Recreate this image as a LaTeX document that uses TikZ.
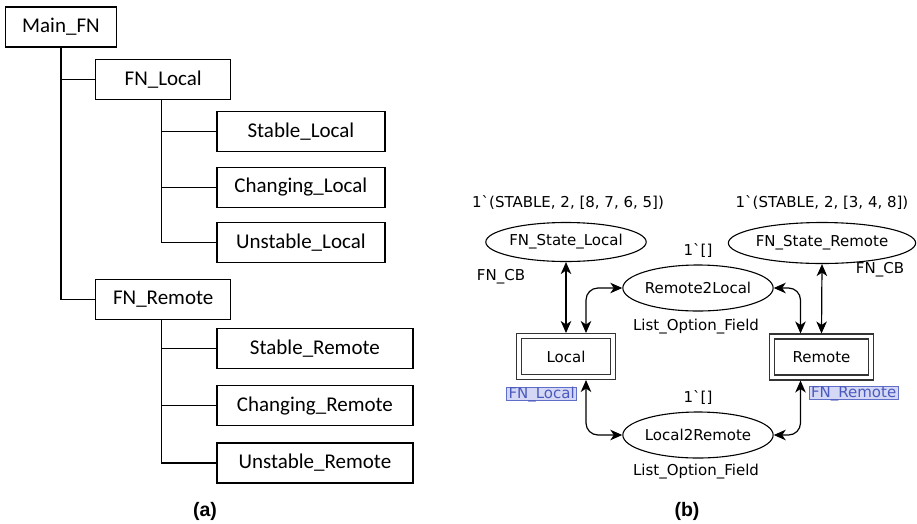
\documentclass[tikz,border=0pt]{standalone}
\usepackage{fontspec}
\usetikzlibrary{positioning, shapes.geometric, arrows.meta}
\newfontfamily\treefont{Carlito}
\newfontfamily\netfont{DejaVu Sans}
\newfontfamily\capfont{Liberation Sans}
\definecolor{tagline}{RGB}{95,110,200}
\definecolor{tagfill}{RGB}{212,216,245}
\definecolor{tagtext}{RGB}{75,90,190}

\begin{document}
\begin{tikzpicture}[x=1pt, y=1pt, node distance=14.5pt]
        % Styles
        \tikzstyle{treeblock} = [rectangle, draw, line width=1.2pt, minimum height=40pt,
            inner sep=0pt, font=\treefont\fontsize{21}{25}\selectfont]
        \tikzstyle{treeline} = [draw, line width=1.2pt]
        \tikzstyle{place} = [ellipse, draw, line width=1.1pt, inner sep=0pt,
            font=\netfont\fontsize{15}{18}\selectfont]
        \tikzstyle{trans} = [rectangle, draw=black!80, double, double distance=3.5pt,
            line width=1.3pt, minimum height=41pt, outer sep=3pt,
            font=\netfont\fontsize{15}{18}\selectfont]
        \tikzstyle{inscr} = [inner sep=0pt, font=\netfont\fontsize{15}{18}\selectfont]
        \tikzstyle{tag} = [rectangle, draw=tagline, fill=tagfill, text=tagtext, line width=1pt,
            inner xsep=2pt, inner ysep=0pt, text height=11pt, text depth=2pt, anchor=north west,
            font=\netfont\fontsize{15}{18}\selectfont]
        \tikzstyle{arc} = [draw, line width=1.2pt, rounded corners=12pt,
            {Stealth[length=12pt, width=10.5pt, inset=3.5pt]}-{Stealth[length=12pt, width=10.5pt, inset=3.5pt]}]
        \tikzstyle{caption} = [font=\capfont\bfseries\fontsize{19.5}{23}\selectfont]

        \useasboundingbox (0,0) rectangle (917,-523);

        % Tree (a)
        \node [treeblock, minimum width=111pt] (mainfn) at (61,-27) {Main\_FN};
        \node [treeblock, minimum width=135pt, below right=11pt and -22pt of mainfn] (fnlocal) {FN\_Local};
        \node [treeblock, minimum width=168pt, below right=11pt and -15pt of fnlocal] (stablelocal) {Stable\_Local};
        \node [treeblock, minimum width=168pt, below=of stablelocal] (changinglocal) {Changing\_Local};
        \node [treeblock, minimum width=168pt, below=of changinglocal] (unstablelocal) {Unstable\_Local};
        \node [treeblock, minimum width=135pt, below=179pt of fnlocal] (fnremote) {FN\_Remote};
        \node [treeblock, minimum width=196pt, below right=8pt and -15pt of fnremote] (stableremote) {Stable\_Remote};
        \node [treeblock, minimum width=196pt, below=16pt of stableremote] (changingremote) {Changing\_Remote};
        \node [treeblock, minimum width=196pt, below=16pt of changingremote] (unstableremote) {Unstable\_Remote};

        \path [treeline] (mainfn.south) |- (fnremote.west);
        \path [treeline] (mainfn.south |- fnlocal.west) -- (fnlocal.west);
        \path [treeline] ([xshift=-2pt]fnlocal.south) |- (unstablelocal.west);
        \path [treeline] ([xshift=-2pt]fnlocal.south |- stablelocal.west) -- (stablelocal.west);
        \path [treeline] ([xshift=-2pt]fnlocal.south |- changinglocal.west) -- (changinglocal.west);
        \path [treeline] ([xshift=-2pt]fnremote.south) |- (unstableremote.west);
        \path [treeline] ([xshift=-2pt]fnremote.south |- stableremote.west) -- (stableremote.west);
        \path [treeline] ([xshift=-2pt]fnremote.south |- changingremote.west) -- (changingremote.west);

        \node [caption] (capa) at (205,-511) {(a)};

        % Net (b)
        \node [place, minimum width=144pt, minimum height=39pt] (statelocal) at (566,-242) {FN\_State\_Local};
        \node [place, minimum width=153pt, minimum height=41pt] (stateremote) at (822,-243) {FN\_State\_Remote};
        \node [place, minimum width=126pt, minimum height=46pt] (r2l) at (698,-288) {Remote2Local};
        \node [place, minimum width=126pt, minimum height=46pt] (l2r) at (698,-435) {Local2Remote};
        \node [trans, minimum width=94pt] (local) at (566,-356.5) {Local};
        \node [trans, minimum width=99pt] (remote) at (821.5,-357) {Remote};

        \node [inscr, above=12.5pt of statelocal, xshift=2pt] (initlocal) {1\textasciigrave(STABLE, 2, [8, 7, 6, 5])};
        \node [inscr, above=12.5pt of stateremote] (initremote) {1\textasciigrave(STABLE, 2, [3, 4, 8])};
        \node [inscr, above=7pt of r2l] (initr2l) {1\textasciigrave[]};
        \node [inscr, below=7pt of r2l, xshift=-2pt] (typer2l) {List\_Option\_Field};
        \node [inscr, above=7pt of l2r] (initl2r) {1\textasciigrave[]};
        \node [inscr, below=5pt of l2r, xshift=-2pt] (typel2r) {List\_Option\_Field};
        \node [inscr] (cblocal) at (501,-277) {FN\_CB};
        \node [inscr] (cbremote) at (880,-270) {FN\_CB};

        \node [tag, below right=7pt and -10pt of local.south west] (taglocal) {FN\_Local};
        \node [tag, below right=5pt and -13pt of remote.south] (tagremote) {FN\_Remote};

        \path [arc] (local.north) -- (statelocal.south);
        \path [arc] (remote.north) -- (stateremote.south);
        \path [arc] ([xshift=20pt]local.north) |- (r2l.west);
        \path [arc] (r2l.east) -| ([xshift=-21pt]remote.north);
        \path [arc] ([xshift=20pt]local.south) |- (l2r.west);
        \path [arc] (l2r.east) -| ([xshift=-21pt]remote.south);

        \node [caption] (capb) at (687,-511) {(b)};
    \end{tikzpicture}
\end{document}
